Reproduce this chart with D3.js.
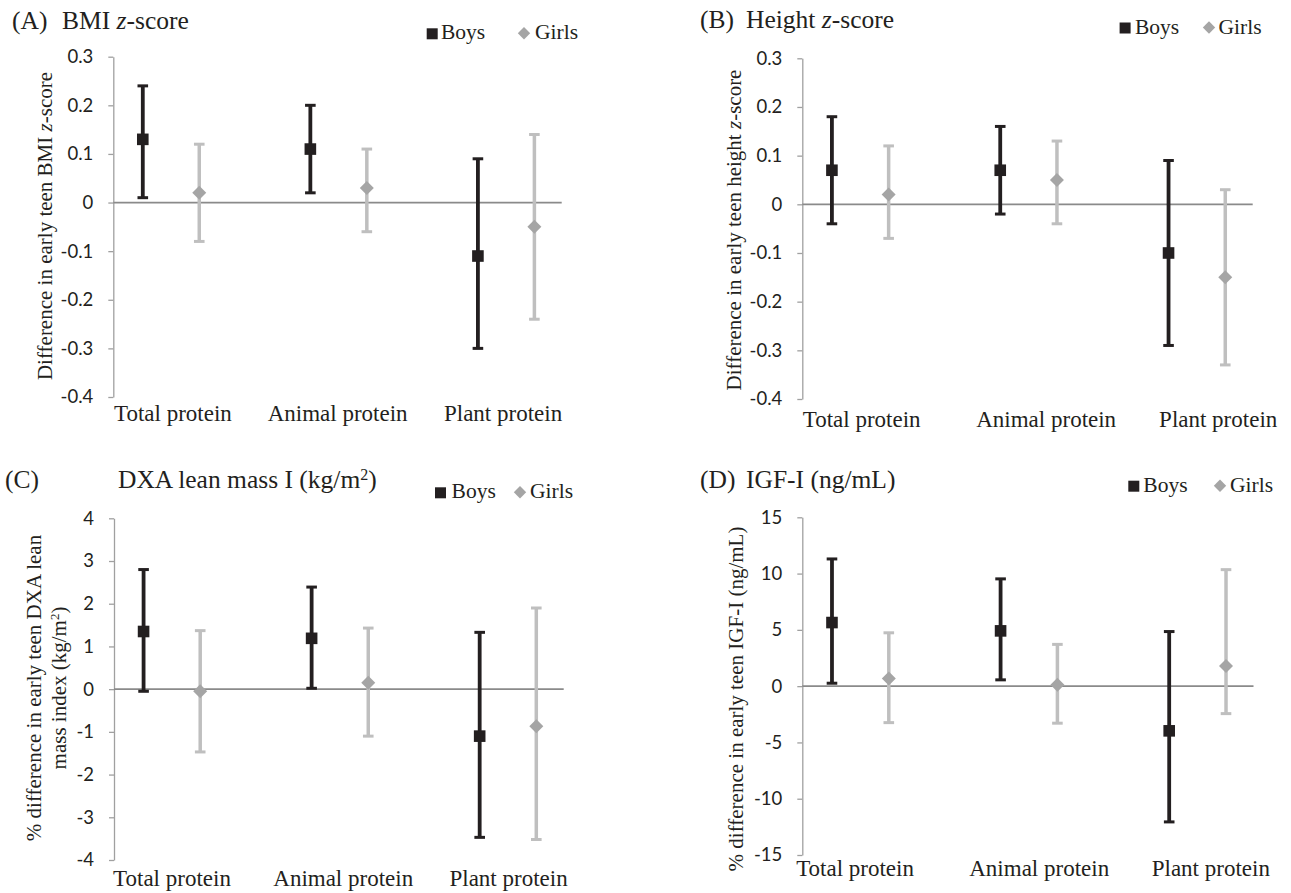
<!DOCTYPE html>
<html>
<head>
<meta charset="utf-8">
<script src="https://cdn.jsdelivr.net/npm/d3@7/dist/d3.min.js"></script>
<style>
  html, body { margin: 0; padding: 0; background: #ffffff; }
  svg { display: block; }
  .serif { font-family: "Liberation Serif", "Times New Roman", serif; fill: #231f20; }
  .tick text { font-family: Lato, "Open Sans", sans-serif; font-size: 18.5px; fill: #231f20; }
</style>
</head>
<body>
<svg id="chart" width="1291" height="893"></svg>
<script>
// ---------- data ----------
const categories = ["Total protein", "Animal protein", "Plant protein"];
const seriesNames = ["Boys", "Girls"];

// (A) BMI z-score
const bmiBoys = [0.13, 0.11, -0.11];
const bmiBoysLo = [0.01, 0.02, -0.30];
const bmiBoysHi = [0.24, 0.20, 0.09];
const bmiGirls = [0.02, 0.03, -0.05];
const bmiGirlsLo = [-0.08, -0.06, -0.24];
const bmiGirlsHi = [0.12, 0.11, 0.14];

// (B) Height z-score
const heightBoys = [0.07, 0.07, -0.10];
const heightBoysLo = [-0.04, -0.02, -0.29];
const heightBoysHi = [0.18, 0.16, 0.09];
const heightGirls = [0.02, 0.05, -0.15];
const heightGirlsLo = [-0.07, -0.04, -0.33];
const heightGirlsHi = [0.12, 0.13, 0.03];

// (C) DXA lean mass index
const leanBoys = [1.35, 1.19, -1.10];
const leanBoysLo = [-0.05, 0.02, -3.47];
const leanBoysHi = [2.80, 2.39, 1.33];
const leanGirls = [-0.05, 0.15, -0.87];
const leanGirlsLo = [-1.47, -1.10, -3.52];
const leanGirlsHi = [1.37, 1.43, 1.90];

// (D) IGF-I
const igfBoys = [5.65, 4.91, -3.97];
const igfBoysLo = [0.26, 0.56, -12.06];
const igfBoysHi = [11.30, 9.53, 4.85];
const igfGirls = [0.68, 0.12, 1.79];
const igfGirlsLo = [-3.24, -3.29, -2.44];
const igfGirlsHi = [4.74, 3.71, 10.35];

// tick values and labels
const zTicks = [-0.4, -0.3, -0.2, -0.1, 0, 0.1, 0.2, 0.3];
const zTickLabels = ["-0.4", "-0.3", "-0.2", "-0.1", "0", "0.1", "0.2", "0.3"];
const leanTicks = [-4, -3, -2, -1, 0, 1, 2, 3, 4];
const leanTickLabels = ["-4", "-3", "-2", "-1", "0", "1", "2", "3", "4"];
const igfTicks = [-15, -10, -5, 0, 5, 10, 15];
const igfTickLabels = ["-15", "-10", "-5", "0", "5", "10", "15"];

// ---------- styles ----------
const BOYS_COLOR = "#231f20";
const GIRLS_BAR = "#bfbfbf";
const GIRLS_MARK = "#a5a5a5";
const AXIS_COLOR = "#a0a0a0";
const ZERO_COLOR = "#8a8a8a";

const svg = d3.select("#chart");

function drawPanel(p) {
  const g = svg.append("g");
  const y = d3.scaleLinear().domain(p.yDomain).range([p.bottom, p.top]);
  // position units: boys at i, girls at i + girlsOffset
  const x = d3.scaleLinear().domain([-0.176, 2.5]).range([p.left, p.right]);
  const girlsOffset = 0.337;

  // y axis
  const axis = d3.axisLeft(y)
    .tickValues(p.ticks)
    .tickFormat((d, i) => p.tickLabels[i])
    .tickSize(5)
    .tickSizeOuter(0)
    .tickPadding(15);
  const ag = g.append("g").attr("transform", `translate(${p.left},0)`).call(axis);
  ag.select(".domain").attr("stroke", AXIS_COLOR).attr("stroke-width", 1.3);
  ag.selectAll(".tick line").attr("stroke", AXIS_COLOR).attr("stroke-width", 1.3);
  ag.selectAll(".tick text").attr("fill", "#231f20");

  // zero line
  g.append("line")
    .attr("x1", p.left).attr("x2", p.right)
    .attr("y1", y(0)).attr("y2", y(0))
    .attr("stroke", ZERO_COLOR).attr("stroke-width", 1.8);

  const series = [
    { name: "Boys", mean: p.boys, lo: p.boysLo, hi: p.boysHi, off: 0, bar: BOYS_COLOR, w: 3.8 },
    { name: "Girls", mean: p.girls, lo: p.girlsLo, hi: p.girlsHi, off: girlsOffset, bar: GIRLS_BAR, w: 3.5 }
  ];

  series.forEach(s => {
    const sg = g.append("g");
    categories.forEach((c, i) => {
      const cx = x(i + s.off);
      sg.append("line")
        .attr("x1", cx).attr("x2", cx)
        .attr("y1", y(s.lo[i])).attr("y2", y(s.hi[i]))
        .attr("stroke", s.bar).attr("stroke-width", s.w);
      [s.lo[i], s.hi[i]].forEach(v => {
        sg.append("line")
          .attr("x1", cx - 5.3).attr("x2", cx + 5.3)
          .attr("y1", y(v)).attr("y2", y(v))
          .attr("stroke", s.bar).attr("stroke-width", 3);
      });
      if (s.name === "Boys") {
        sg.append("rect")
          .attr("x", cx - 5.8).attr("y", y(s.mean[i]) - 5.8)
          .attr("width", 11.6).attr("height", 11.6)
          .attr("fill", BOYS_COLOR);
      } else {
        const cy = y(s.mean[i]);
        const r = 7;
        sg.append("path")
          .attr("d", `M${cx},${cy - r}L${cx + r},${cy}L${cx},${cy + r}L${cx - r},${cy}Z`)
          .attr("fill", GIRLS_MARK);
      }
    });
  });

  // category labels
  categories.forEach((c, i) => {
    g.append("text").attr("class", "serif")
      .attr("x", x(p.labelPos[i])).attr("y", p.labelY)
      .attr("text-anchor", "middle")
      .attr("font-size", 23)
      .text(c);
  });

  // panel letter and title
  g.append("text").attr("class", "serif")
    .attr("x", p.letterX).attr("y", p.titleY)
    .attr("font-size", 25.5).text(p.letter);
  const t = g.append("text").attr("class", "serif")
    .attr("x", p.titleX).attr("y", p.titleY)
    .attr("font-size", 25.5);
  p.titleParts.forEach(part => {
    const ts = t.append("tspan").text(part.t);
    if (part.italic) ts.attr("font-style", "italic");
    if (part.sup) ts.attr("baseline-shift", "super").attr("font-size", 16);
  });

  // y title (one or more lines)
  p.yTitle.forEach((line, li) => {
    const bx = p.yTitleX[li];
    const yt = g.append("text").attr("class", "serif")
      .attr("transform", `translate(${bx},${p.yTitleY}) rotate(-90)`)
      .attr("text-anchor", "middle")
      .attr("font-size", 21);
    line.forEach(part => {
      const ts = yt.append("tspan").text(part.t);
      if (part.italic) ts.attr("font-style", "italic");
      if (part.sup) ts.attr("baseline-shift", "super").attr("font-size", 13);
    });
  });

  // legend
  const L = p.legend;
  g.append("rect")
    .attr("x", L.sqX).attr("y", L.base - 11).attr("width", 11).attr("height", 11)
    .attr("fill", BOYS_COLOR);
  g.append("text").attr("class", "serif")
    .attr("x", L.boysX).attr("y", L.base).attr("font-size", 21.5).text(seriesNames[0]);
  const dcx = L.dX, dcy = L.base - 6, dr = 6.2;
  g.append("path")
    .attr("d", `M${dcx},${dcy - dr}L${dcx + dr},${dcy}L${dcx},${dcy + dr}L${dcx - dr},${dcy}Z`)
    .attr("fill", GIRLS_MARK);
  g.append("text").attr("class", "serif")
    .attr("x", L.girlsX).attr("y", L.base).attr("font-size", 21.5).text(seriesNames[1]);
}

drawPanel({
  yDomain: [-0.4, 0.3], ticks: zTicks, tickLabels: zTickLabels,
  left: 113.3, right: 561.7, top: 56.7, bottom: 397,
  boys: bmiBoys, boysLo: bmiBoysLo, boysHi: bmiBoysHi,
  girls: bmiGirls, girlsLo: bmiGirlsLo, girlsHi: bmiGirlsHi,
  labelPos: [0.18, 1.163, 2.15], labelY: 421,
  letter: "(A)", letterX: 12, titleX: 62, titleY: 28.5,
  titleParts: [{ t: "BMI " }, { t: "z", italic: true }, { t: "-score" }],
  yTitle: [[{ t: "Difference in early teen BMI " }, { t: "z", italic: true }, { t: "-score" }]],
  yTitleX: [52], yTitleY: 226,
  legend: { sqX: 426.7, boysX: 441, dX: 524, girlsX: 535, base: 39.3 }
});

drawPanel({
  yDomain: [-0.4, 0.3], ticks: zTicks, tickLabels: zTickLabels,
  left: 802.3, right: 1252.7, top: 58.3, bottom: 399,
  boys: heightBoys, boysLo: heightBoysLo, boysHi: heightBoysHi,
  girls: heightGirls, girlsLo: heightGirlsLo, girlsHi: heightGirlsHi,
  labelPos: [0.177, 1.273, 2.295], labelY: 427,
  letter: "(B)", letterX: 700, titleX: 746, titleY: 27.7,
  titleParts: [{ t: "Height " }, { t: "z", italic: true }, { t: "-score" }],
  yTitle: [[{ t: "Difference in early teen height " }, { t: "z", italic: true }, { t: "-score" }]],
  yTitleX: [741], yTitleY: 230,
  legend: { sqX: 1119.6, boysX: 1135, dX: 1209, girlsX: 1218.5, base: 33.5 }
});

drawPanel({
  yDomain: [-4, 4], ticks: leanTicks, tickLabels: leanTickLabels,
  left: 114, right: 563.7, top: 518.3, bottom: 860,
  boys: leanBoys, boysLo: leanBoysLo, boysHi: leanBoysHi,
  girls: leanGirls, girlsLo: leanGirlsLo, girlsHi: leanGirlsHi,
  labelPos: [0.169, 1.188, 2.172], labelY: 886,
  letter: "(C)", letterX: 5, titleX: 118, titleY: 488.3,
  titleParts: [{ t: "DXA lean mass I (kg/m" }, { t: "2", sup: true }, { t: ")" }],
  yTitle: [
    [{ t: "% difference in early teen DXA lean" }],
    [{ t: "mass index (kg/m" }, { t: "2", sup: true }, { t: ")" }]
  ],
  yTitleX: [40.5, 66], yTitleY: 688,
  legend: { sqX: 435, boysX: 451.6, dX: 520, girlsX: 530, base: 498.3 }
});

drawPanel({
  yDomain: [-15, 15], ticks: igfTicks, tickLabels: igfTickLabels,
  left: 802.3, right: 1253.5, top: 517.3, bottom: 855,
  boys: igfBoys, boysLo: igfBoysLo, boysHi: igfBoysHi,
  girls: igfGirls, girlsLo: igfGirlsLo, girlsHi: igfGirlsHi,
  labelPos: [0.137, 1.229, 2.247], labelY: 876,
  letter: "(D)", letterX: 700, titleX: 746, titleY: 488,
  titleParts: [{ t: "IGF-I (ng/mL)" }],
  yTitle: [[{ t: "% difference in early teen IGF-I (ng/mL)" }]],
  yTitleX: [743], yTitleY: 699,
  legend: { sqX: 1128.3, boysX: 1143.3, dX: 1220, girlsX: 1230, base: 491.7 }
});
</script>
</body>
</html>
